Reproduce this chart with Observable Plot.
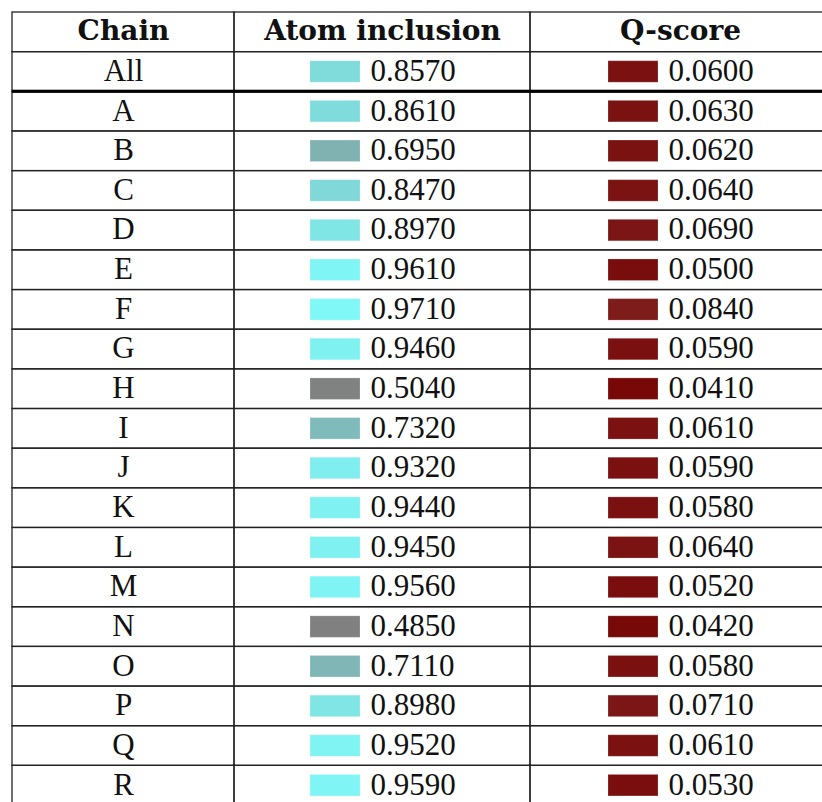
<!DOCTYPE html>
<html>
<head>
<meta charset="utf-8">
<script src="https://cdn.jsdelivr.net/npm/d3@7"></script>
<script src="https://cdn.jsdelivr.net/npm/@observablehq/plot@0.6"></script>
<style>
  html, body { margin: 0; padding: 0; background: #fff; overflow: hidden; }
</style>
</head>
<body>
<div id="chart"></div>
<script>
// ---- data ----
const headers = ["Chain", "Atom inclusion", "Q-score"];
const chains = ["All", "A", "B", "C", "D", "E", "F", "G", "H", "I", "J", "K", "L", "M", "N", "O", "P", "Q", "R"];
const atomInclusion = [0.857, 0.861, 0.695, 0.847, 0.897, 0.961, 0.971, 0.946, 0.504, 0.732, 0.932, 0.944, 0.945, 0.956, 0.485, 0.711, 0.898, 0.952, 0.959];
const qScore = [0.060, 0.063, 0.062, 0.064, 0.069, 0.050, 0.084, 0.059, 0.041, 0.061, 0.059, 0.058, 0.064, 0.052, 0.042, 0.058, 0.071, 0.061, 0.053];

// ---- layout ----
const colWidths = [222, 296, 300];
const colEdges = colWidths.reduce((a, w) => (a.push(a[a.length - 1] + w), a), [0]);
const colCenter = i => (colEdges[i] + colEdges[i + 1]) / 2;
const rows = ["__header__", ...chains];
const width = 822, height = 802;
const yRange = [12, 805];
const bw = (yRange[1] - yRange[0]) / rows.length;
const swatchH = 21.5;

const atomColor = d3.scaleLinear().domain([0.5, 1.0]).range(["#808080", "#80ffff"]).clamp(true);
const qColor = d3.scaleLinear().domain([0.04, 0.09]).range(["#780808", "#7f1e1e"]).clamp(true);
const fmt = d3.format(".4f");

const table = chains.map((c, i) => ({chain: c, atom: atomInclusion[i], q: qScore[i]}));

// cells (grid)
const cells = [];
for (const r of rows) for (let c = 0; c < headers.length; c++) cells.push({row: r, x1: colEdges[c], x2: colEdges[c + 1]});

const swatches = [
  ...table.map(d => ({row: d.chain, x1: colCenter(1) - 72, x2: colCenter(1) - 22, fill: atomColor(d.atom)})),
  ...table.map(d => ({row: d.chain, x1: colCenter(2) - 72, x2: colCenter(2) - 22, fill: qColor(d.q)}))
];
const valueText = [
  ...table.map(d => ({row: d.chain, x: colCenter(1) - 12, text: fmt(d.atom)})),
  ...table.map(d => ({row: d.chain, x: colCenter(2) - 12, text: fmt(d.q)}))
];

const chart = Plot.plot({
  width, height,
  margin: 0,
  style: {overflow: "hidden", background: "#fff"},
  x: {type: "linear", domain: [0, colEdges[colEdges.length - 1]], range: [12, 12 + colEdges[colEdges.length - 1]], axis: null},
  y: {type: "band", domain: rows, range: yRange, padding: 0, round: false, axis: null},
  color: {type: "identity"},
  marks: [
    // grid cells
    Plot.rect(cells, {x1: "x1", x2: "x2", y: "row", fill: "none", stroke: "#222", strokeWidth: 1.3}),
    // thick rule under "All"
    Plot.rect([{row: "All"}], {x1: colEdges[0], x2: colEdges[colEdges.length - 1], y: "row", fill: "#000", insetTop: bw - 1.6, insetBottom: -1.6}),
    // header text
    Plot.text(headers, {x: (d, i) => colCenter(i), y: () => "__header__", text: d => d, fontFamily: "DejaVu Serif", fontWeight: "bold", fontSize: 28, fill: "#111", dy: -1}),
    // chain labels
    Plot.text(table, {x: colCenter(0), y: "chain", text: "chain", fontFamily: "Liberation Serif", fontSize: 31, fill: "#111", dy: -1}),
    // swatches
    Plot.rect(swatches, {x1: "x1", x2: "x2", y: "row", fill: "fill", insetTop: (bw - swatchH) / 2, insetBottom: (bw - swatchH) / 2, stroke: "#fff", strokeOpacity: 0.2, strokeWidth: 1}),
    // values
    Plot.text(valueText, {x: "x", y: "row", text: "text", textAnchor: "start", fontFamily: "Liberation Serif", fontSize: 31, fill: "#111", dy: -1})
  ]
});
document.getElementById("chart").appendChild(chart);
</script>
</body>
</html>
